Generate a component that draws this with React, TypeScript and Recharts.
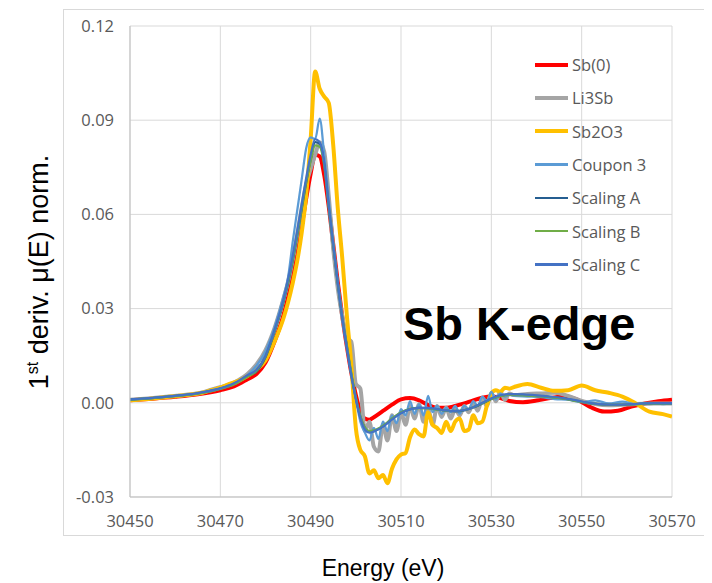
import { LineChart, Line, XAxis, YAxis, CartesianGrid } from 'recharts';

// energy grid (eV) for the smoothed spectra
const energy = [
  30450, 30455, 30460, 30465, 30470, 30473, 30476, 30478, 30480, 30482, 30484, 30486,
  30487, 30488, 30489, 30490, 30491, 30492, 30493, 30494, 30495, 30496, 30497, 30498,
  30499, 30500, 30501, 30502, 30503, 30504, 30506, 30508, 30510, 30512, 30514, 30516,
  30518, 30520, 30522, 30524, 30526, 30528, 30530, 30532, 30534, 30537, 30540, 30543,
  30546, 30549, 30552, 30555, 30558, 30561, 30564, 30567, 30570,
];

const sb0 = [
  0.0008, 0.0013, 0.0019, 0.0027, 0.004, 0.0052, 0.0075, 0.0092, 0.0128, 0.0195, 0.028, 0.04,
  0.047, 0.056, 0.065, 0.073, 0.079, 0.0785, 0.0725, 0.0625, 0.0505, 0.0385, 0.0275, 0.018,
  0.0095, 0.0025, -0.0028, -0.005, -0.0054, -0.0046, -0.0026, -0.0006, 0.0011, 0.0015, 0.0008, -0.0007,
  -0.0016, -0.0016, -0.001, -0.0002, 0.0008, 0.0016, 0.002, 0.0015, 0.0006, 0.0002, 0.0007, 0.0015,
  0.002, 0.001, -0.0014, -0.0028, -0.0025, -0.0012, -0.0002, 0.0005, 0.001,
];

const scalingA = [
  0.001, 0.0015, 0.0022, 0.003, 0.0045, 0.006, 0.0085, 0.01, 0.0145, 0.0225, 0.032, 0.045,
  0.053, 0.0615, 0.07, 0.0775, 0.083, 0.0825, 0.076, 0.062, 0.05, 0.038, 0.027, 0.018,
  0.009, 0.0015, -0.0045, -0.008, -0.0092, -0.009, -0.0075, -0.0052, -0.0032, -0.002, -0.0016, -0.0017,
  -0.0021, -0.0025, -0.0027, -0.0024, -0.0015, -0.0002, 0.0012, 0.0022, 0.0026, 0.0025, 0.0022, 0.0019,
  0.0014, 0.0006, -0.0002, -0.0006, -0.0007, -0.0005, -0.0003, -0.0002, -0.0002,
];

const scalingB = [
  0.001, 0.0015, 0.0021, 0.0029, 0.0044, 0.0058, 0.0083, 0.0102, 0.0148, 0.0228, 0.0325, 0.0455,
  0.0535, 0.062, 0.0705, 0.077, 0.082, 0.0815, 0.0755, 0.0625, 0.0505, 0.0385, 0.0275, 0.0185,
  0.0095, 0.0018, -0.0042, -0.0078, -0.009, -0.0088, -0.0073, -0.005, -0.0031, -0.002, -0.0017, -0.0018,
  -0.0022, -0.0025, -0.0026, -0.0023, -0.0014, -0.0001, 0.0012, 0.0021, 0.0025, 0.0024, 0.0021, 0.0018,
  0.0013, 0.0005, -0.0002, -0.0005, -0.0006, -0.0005, -0.0003, -0.0002, -0.0001,
];

const scalingC = [
  0.0011, 0.0016, 0.0022, 0.0031, 0.0046, 0.0062, 0.0088, 0.0105, 0.015, 0.0232, 0.033, 0.0465,
  0.0545, 0.063, 0.0715, 0.079, 0.084, 0.083, 0.0765, 0.063, 0.0505, 0.0385, 0.0272, 0.0178,
  0.0088, 0.0012, -0.0048, -0.0085, -0.0095, -0.0091, -0.0076, -0.0053, -0.0033, -0.0021, -0.0016, -0.0016,
  -0.002, -0.0024, -0.0026, -0.0023, -0.0014, 0.0, 0.0014, 0.0024, 0.0028, 0.0027, 0.0024, 0.002,
  0.0015, 0.0007, -0.0001, -0.0005, -0.0006, -0.0004, -0.0002, -0.0001, -0.0001,
];

// finer grid for the noisier references and the coupon
const energyRaw = [
  30450, 30454, 30458, 30462, 30466, 30468, 30470, 30472, 30474, 30476, 30478, 30480, 30482, 30484,
  30485, 30486, 30487, 30488, 30489, 30490, 30491, 30492, 30493, 30494, 30495, 30496, 30497, 30498,
  30499, 30500, 30501, 30502, 30503, 30504, 30505, 30506, 30507, 30508, 30509, 30510, 30511, 30512,
  30513, 30514, 30515, 30516, 30517, 30518, 30519, 30520, 30521, 30522, 30523, 30524, 30525, 30526,
  30527, 30528, 30529, 30530, 30531, 30532, 30533, 30534, 30535,
  30538, 30541, 30544, 30547, 30550, 30553, 30556, 30559, 30562, 30565, 30568, 30570,
];

const li3sb = [
  0.001, 0.0014, 0.0019, 0.0025, 0.0033, 0.0042, 0.005, 0.0058, 0.0072, 0.0092, 0.0122, 0.0168, 0.0238, 0.0332,
  0.0385, 0.0455, 0.0535, 0.062, 0.0695, 0.0745, 0.079, 0.083, 0.08, 0.066, 0.049, 0.0365, 0.0275, 0.0205,
  0.0195, 0.006, 0.0045, -0.009, -0.006, -0.014, -0.0155, -0.007, -0.012, -0.004, -0.009, -0.003, -0.007, -0.001,
  -0.005, -0.0005, -0.006, -0.002, -0.007, -0.001, -0.0045, -0.0015, -0.005, -0.002, -0.004, -0.001, -0.003, 0.0,
  -0.0025, 0.0015, -0.001, 0.003, 0.0005, 0.0035, 0.001, 0.003, 0.0025,
  0.0028, 0.003, 0.0032, 0.0022, 0.0006, -0.0004, -0.0008, -0.0006, -0.0004, -0.0003, -0.0002, -0.0002,
];

const sb2o3 = [
  0.0008, 0.0012, 0.0018, 0.0024, 0.0032, 0.004, 0.0048, 0.006, 0.007, 0.0085, 0.0105, 0.0135, 0.0195, 0.027,
  0.032, 0.038, 0.045, 0.054, 0.066, 0.084, 0.1055, 0.1, 0.0975, 0.0955, 0.082, 0.062, 0.046, 0.028,
  0.012, -0.008, -0.015, -0.017, -0.0225, -0.0215, -0.024, -0.023, -0.0256, -0.021, -0.018, -0.0165, -0.016, -0.011,
  -0.0085, -0.01, -0.0107, -0.003, -0.007, -0.008, -0.0096, -0.006, -0.009, -0.006, -0.005, -0.009, -0.0085, -0.004,
  -0.0065, -0.006, -0.001, 0.003, 0.004, 0.0035, 0.0048, 0.0045, 0.005,
  0.006, 0.0048, 0.0038, 0.004, 0.0055, 0.004, 0.0032, 0.002, -0.0002, -0.0028, -0.0036, -0.0044,
];

const coupon3 = [
  0.001, 0.0014, 0.0019, 0.0025, 0.0032, 0.004, 0.0046, 0.0054, 0.0066, 0.0088, 0.0118, 0.0165, 0.024, 0.034,
  0.04, 0.051, 0.061, 0.071, 0.081, 0.0845, 0.084, 0.0905, 0.079, 0.065, 0.0505, 0.0375, 0.0265, 0.0172,
  0.0088, 0.0012, -0.006, -0.0095, -0.012, -0.008, -0.0115, -0.006, -0.009, -0.004, -0.0065, -0.002, -0.004, 0.0005,
  -0.0035, -0.0005, -0.004, 0.0022, -0.003, -0.001, -0.0035, -0.0015, -0.003, -0.001, -0.0035, -0.001, -0.002, 0.0005,
  -0.001, 0.002, 0.0005, 0.0035, 0.001, 0.003, 0.002, 0.0025, 0.0022,
  0.002, 0.0018, 0.0012, 0.001, 0.0002, 0.0008, -0.0002, 0.0004, -0.0004, 0.0, -0.0004, -0.0002,
];

const xTicks = [30450, 30470, 30490, 30510, 30530, 30550, 30570];
const yTicks = [-0.03, 0, 0.03, 0.06, 0.09, 0.12];

const toPoints = (xs: number[], ys: number[]) => xs.map((e, i) => ({ e, v: ys[i] }));

const series = [
  { name: 'Sb(0)', color: '#ff0000', width: 4, data: toPoints(energy, sb0) },
  { name: 'Li3Sb', color: '#a5a5a5', width: 4, data: toPoints(energyRaw, li3sb) },
  { name: 'Sb2O3', color: '#ffc000', width: 4, data: toPoints(energyRaw, sb2o3) },
  { name: 'Coupon 3', color: '#5b9bd5', width: 2.25, data: toPoints(energyRaw, coupon3) },
  { name: 'Scaling A', color: '#255e91', width: 2.25, data: toPoints(energy, scalingA) },
  { name: 'Scaling B', color: '#70ad47', width: 2.25, data: toPoints(energy, scalingB) },
  { name: 'Scaling C', color: '#4472c4', width: 2.25, data: toPoints(energy, scalingC) },
];

const tickFont = { fontFamily: 'Open Sans', fontSize: 16.5, fill: '#595959' };

// legend box sits over the top-right of the plot
const SeriesLegend = () => (
  <div
    style={{
      position: 'absolute',
      left: 527,
      top: 40,
      fontFamily: 'Open Sans',
      fontSize: 16.5,
      color: '#595959',
    }}
  >
    {series.map((s) => (
      <div key={s.name} style={{ display: 'flex', alignItems: 'center', height: 33.3 }}>
        <span style={{ display: 'inline-block', width: 33, height: s.width, background: s.color }} />
        <span style={{ marginLeft: 4 }}>{s.name}</span>
      </div>
    ))}
  </div>
);

const YTitle = () => (
  <text
    x={40}
    y={264}
    transform='rotate(-90 40 264)'
    textAnchor='middle'
    fontFamily='Liberation Sans, Arial'
    fontSize={27}
    fill='#000'
  >
    1<tspan dy={-10} fontSize={16}>st</tspan>
    <tspan dy={10}> deriv. μ(E) norm.</tspan>
  </text>
);

const XTitle = () => (
  <text x={375} y={568} textAnchor='middle' fontFamily='Liberation Sans, Arial' fontSize={23} fill='#000'>
    Energy (eV)
  </text>
);

export default function App() {
  return (
    <div style={{ position: 'relative', width: 704, height: 575 }}>
      <div
        style={{
          position: 'absolute',
          left: 55,
          top: 1,
          width: 645,
          height: 525,
          border: '1px solid #d9d9d9',
        }}
      />
      <LineChart width={704} height={575} margin={{ top: 18, right: 40, bottom: 46, left: 62 }}>
        <CartesianGrid stroke='#d9d9d9' strokeWidth={1} />
        <XAxis
          type='number'
          dataKey='e'
          domain={[30450, 30570]}
          ticks={xTicks}
          allowDataOverflow
          height={40}
          tickLine={false}
          tickSize={0}
          tickMargin={18}
          axisLine={{ stroke: '#bfbfbf' }}
          tick={tickFont}
          label={<XTitle />}
        />
        <YAxis
          type='number'
          domain={[-0.03, 0.12]}
          ticks={yTicks}
          width={60}
          tickLine={false}
          tickSize={0}
          tickMargin={16}
          axisLine={{ stroke: '#bfbfbf' }}
          tick={tickFont}
          tickFormatter={(v: number) => v.toFixed(2)}
          label={<YTitle />}
        />
        {series.map((s) => (
          <Line
            key={s.name}
            data={s.data}
            dataKey='v'
            name={s.name}
            type='monotone'
            stroke={s.color}
            strokeWidth={s.width}
            dot={false}
            activeDot={false}
            isAnimationActive={false}
          />
        ))}
      </LineChart>
      <SeriesLegend />
      <div
        style={{
          position: 'absolute',
          left: 395,
          top: 292,
          fontFamily: 'Liberation Sans, Arial',
          fontWeight: 'bold',
          fontSize: 47,
          lineHeight: 1,
          color: '#000',
        }}
      >
        Sb K-edge
      </div>
    </div>
  );
}
